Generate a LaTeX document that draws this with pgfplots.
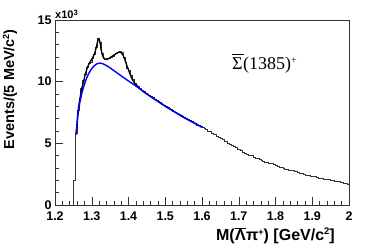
\documentclass[border=0pt]{standalone}
\usepackage{pgfplots}
\pgfplotsset{compat=1.18}
\usepackage{fontspec}
\setmainfont{Liberation Sans}
\newfontfamily\serif{Liberation Serif}
\begin{document}
\begin{tikzpicture}[x=1pt,y=1pt]
\begin{axis}[
  at={(55pt,43pt)}, anchor=south west,
  scale only axis, width=294pt, height=185pt,
  xmin=1.2, xmax=2.0, ymin=0, ymax=15,
  xtick={1.2,1.3,...,2.0}, ytick={0,5,10,15},
  xticklabels={1.2,1.3,1.4,1.5,1.6,1.7,1.8,1.9,2},
  minor x tick num=4, minor y tick num=4,
  tick align=inside, xtick pos=bottom, ytick pos=left,
  major tick length=8pt, minor tick length=4pt,
  tick style={black!80, line width=0.5pt},
  axis line style={black!80, line width=0.6pt},
  /pgf/number format/assume math mode=true,
  ticklabel style={font=\bfseries\fontsize{12.5}{13}\selectfont},
  xticklabel style={yshift=-3pt},
  clip=true,
]
\addplot[const plot, black!80, line width=0.5pt] coordinates {
(1.250,0)(1.250,2.0)(1.255,5.8)(1.260,7.7)(1.265,8.6)(1.270,9.5)(1.275,10.1)(1.280,10.6)(1.285,11.2)(1.290,11.5)(1.295,11.6)
(1.300,11.9)(1.305,12.2)(1.310,12.8)(1.315,13.5)(1.320,13.2)(1.325,12.3)(1.330,11.9)(1.335,11.8)(1.340,11.9)(1.345,11.9)
(1.350,12.0)(1.355,12.1)(1.360,12.2)(1.365,12.3)(1.370,12.4)(1.375,12.5)(1.380,12.4)(1.385,12.0)(1.390,11.6)(1.395,11.1)
(1.400,10.9)(1.405,10.5)(1.410,10.2)(1.415,9.9)(1.420,9.7)(1.425,9.6)(1.430,9.5)(1.435,9.3)(1.440,9.2)(1.445,9.1)
(1.450,9.0)(1.455,8.9)(1.460,8.8)(1.465,8.7)(1.470,8.6)(1.475,8.5)(1.480,8.4)(1.485,8.35)(1.490,8.2)(1.495,8.1)
(1.500,8.0)(1.505,7.95)(1.510,7.8)(1.515,7.75)(1.520,7.6)(1.525,7.5)(1.530,7.45)(1.535,7.35)(1.540,7.25)(1.545,7.2)
(1.550,7.1)(1.555,7.0)(1.560,6.95)(1.565,6.85)(1.570,6.75)(1.575,6.7)(1.580,6.6)(1.585,6.5)(1.590,6.45)(1.595,6.35)
(1.600,6.3)(1.605,6.2)(1.610,6.15)(1.615,6.0)(1.620,5.95)(1.625,5.85)(1.630,5.75)(1.635,5.7)(1.640,5.55)(1.645,5.5)
(1.650,5.4)(1.655,5.3)(1.660,5.2)(1.665,5.15)(1.670,5.0)(1.675,4.95)(1.680,4.85)(1.685,4.75)(1.690,4.7)(1.695,4.55)
(1.700,4.55)(1.705,4.4)(1.710,4.3)(1.715,4.2)(1.720,4.15)(1.725,4.05)(1.730,4.0)(1.735,4.0)(1.740,3.85)(1.745,3.8)
(1.750,3.75)(1.755,3.7)(1.760,3.65)(1.765,3.55)(1.770,3.5)(1.775,3.45)(1.780,3.4)(1.785,3.35)(1.790,3.35)(1.795,3.3)
(1.800,3.2)(1.805,3.15)(1.810,3.1)(1.815,3.05)(1.820,2.95)(1.825,2.9)(1.830,2.9)(1.835,2.85)(1.840,2.8)(1.845,2.8)
(1.850,2.75)(1.855,2.7)(1.860,2.65)(1.865,2.6)(1.870,2.55)(1.875,2.5)(1.880,2.45)(1.885,2.45)(1.890,2.4)(1.895,2.35)
(1.900,2.3)(1.905,2.3)(1.910,2.25)(1.915,2.2)(1.920,2.2)(1.925,2.15)(1.930,2.1)(1.935,2.1)(1.940,2.05)(1.945,2.05)
(1.950,2.0)(1.955,2.0)(1.960,1.95)(1.965,1.95)(1.970,1.9)(1.975,1.85)(1.980,1.85)(1.985,1.8)(1.990,1.75)(1.995,1.72)
(2.000,1.72)
};
\addplot[black, line width=1.3pt] coordinates {
(1.2575,5.8)(1.2625,7.6)(1.2675,8.6)(1.2725,9.4)(1.2775,10.0)(1.2825,10.6)(1.2875,11.1)(1.2925,11.45)(1.2975,11.7)
(1.3025,11.95)(1.3075,12.25)(1.3125,12.8)(1.3165,13.35)(1.3195,13.45)(1.3225,13.2)(1.3255,12.6)(1.3295,12.1)(1.3345,11.85)
(1.3400,11.8)(1.3450,11.85)(1.3500,11.95)(1.3550,12.05)(1.3600,12.15)(1.3650,12.25)(1.3700,12.35)(1.3750,12.4)(1.3800,12.35)
(1.3850,12.15)(1.3900,11.8)(1.3950,11.35)(1.4000,10.95)(1.4050,10.55)(1.4100,10.2)(1.4150,9.95)(1.4200,9.75)(1.4300,9.45)
(1.4400,9.2)(1.4500,9.0)(1.4750,8.5)(1.5000,8.02)(1.5250,7.57)(1.5500,7.12)(1.5750,6.72)(1.6000,6.32)
};
\addplot[blue, line width=1.4pt] coordinates {
(1.2575,5.7)(1.2625,7.3)(1.2675,8.3)(1.2725,9.0)(1.2775,9.55)(1.2825,10.0)(1.2875,10.4)(1.2925,10.7)(1.2975,10.95)
(1.3025,11.15)(1.3075,11.3)(1.3125,11.42)(1.3175,11.48)(1.3225,11.5)(1.3275,11.48)(1.3325,11.42)(1.3400,11.3)(1.3500,11.12)
(1.3625,10.85)(1.3750,10.58)(1.3875,10.32)(1.4000,10.05)(1.4250,9.55)(1.4500,9.0)(1.4750,8.5)(1.5000,8.0)(1.5250,7.55)
(1.5500,7.1)(1.5750,6.7)(1.6000,6.3)
};
\end{axis}
\node[anchor=base west, inner sep=0pt, font=\bfseries\fontsize{11}{11}\selectfont] at (55,229) {x10$^{\mathbf{3}}$};
% annotation
\node[anchor=base west, inner sep=0pt, font=\serif\fontsize{18}{18}\selectfont] (sig) at (232,178) {Σ};
\node[anchor=base west, inner sep=0pt, font=\serif\fontsize{18}{18}\selectfont] at (sig.base east) {(1385)\raisebox{6.5pt}{\fontsize{10}{10}\selectfont +}};
\draw[black, line width=1.1pt] ([xshift=0.3pt]sig.base west) ++(0,15.5) -- ++(11.5,0);
% y label
\node[anchor=east, rotate=90, inner sep=0pt, font=\bfseries\fontsize{14.5}{15}\selectfont] at (10,219) {Events/(5 MeV/c\raisebox{5pt}{\fontsize{9}{9}\selectfont 2})};
% x label
\node[anchor=base east, inner sep=0pt, font=\bfseries\fontsize{16}{16}\selectfont] (xr) at (335,7) {π\raisebox{5pt}{\fontsize{9}{9}\selectfont +}) [GeV/c\raisebox{6pt}{\fontsize{9.5}{9.5}\selectfont 2}]};
\node[anchor=base east, inner sep=0pt, font=\bfseries\fontsize{16}{16}\selectfont] (lam) at (xr.base west) {Λ};
\node[anchor=base east, inner sep=0pt, font=\bfseries\fontsize{16}{16}\selectfont] at (lam.base west) {M(};
\draw[line width=0.9pt] ([yshift=1.5pt]lam.north west) -- ([yshift=1.5pt]lam.north east);
\pgfresetboundingbox
\useasboundingbox (0,0) rectangle (366,248);
\end{tikzpicture}
\end{document}
